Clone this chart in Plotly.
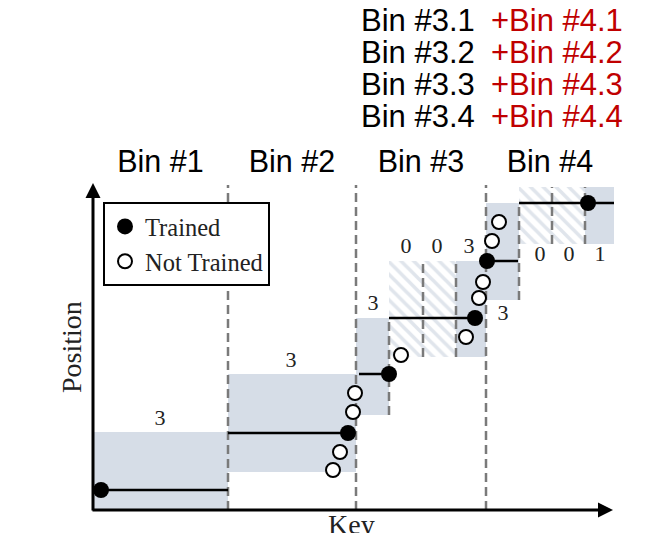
import plotly.graph_objects as go

# ---- coordinate system: key (x) and position (y); axis origin at (0, 0) ----
bin_labels = ["Bin #1", "Bin #2", "Bin #3", "Bin #4"]
bin_edges = [0, 135, 263, 393, 521]
bin_label_pos = 346

# trained (solid shaded) boxes
solid_left = [0, 135, 263, 363, 393, 492]
solid_right = [135, 263, 296, 393, 426, 521]
solid_low = [0, 38, 95, 153, 210, 266]
solid_high = [78, 136, 192, 249, 307, 323]

# untrained (hatched) boxes
hatch_left = [296, 330, 426, 459]
hatch_right = [330, 363, 459, 492]
hatch_low = [153, 153, 266, 266]
hatch_high = [249, 249, 323, 323]

# key counts per (sub)bin
count_text = ["3", "3", "3", "0", "0", "3", "3", "0", "0", "1"]
count_key = [67, 198, 280, 313, 344, 376, 410, 447, 476, 507]
count_pos = [91, 149, 206, 263, 263, 263, 196, 255, 255, 255]

# piecewise model segments
seg_start = [8, 135, 266, 296, 394, 426]
seg_end = [135, 255, 296, 382, 425, 521]
seg_pos = [20, 77, 136, 192, 249, 307]

# points
trained_key = [8, 255, 296, 382, 394, 495]
trained_pos = [20, 77, 136, 192, 249, 307]
untrained_key = [240, 247, 260, 262, 308, 373, 386, 390, 399, 406]
untrained_pos = [40, 58, 98, 117, 155, 173, 212, 228, 269, 288]

# dashed dividers
div_key = [135, 263, 393, 296, 330, 363, 426, 459, 492]
div_low = [0, 0, 0, 95, 153, 153, 210, 266, 266]
div_high = [325, 325, 325, 192, 249, 249, 307, 323, 323]

# sub-bin caption lines
sub_bins_a = ["Bin #3.1", "Bin #3.2", "Bin #3.3", "Bin #3.4"]
sub_bins_b = ["+Bin #4.1", "+Bin #4.2", "+Bin #4.3", "+Bin #4.4"]
sub_row_pos = [490, 458, 426, 394]
sub_a_key = 266
sub_b_key = 396

axis_key_max = 520
axis_pos_max = 327

SERIF = "Liberation Serif"
SANS = "Liberation Sans"
SHADE = "#d6dde7"
HATCH = "#c2ccd9"

fig = go.Figure()

# solid boxes
fig.add_trace(go.Bar(
    x=[(l + r) / 2 for l, r in zip(solid_left, solid_right)],
    y=[h - l for l, h in zip(solid_low, solid_high)],
    base=solid_low,
    width=[r - l for l, r in zip(solid_left, solid_right)],
    marker=dict(color=SHADE, line=dict(width=0)),
    showlegend=False, hoverinfo="skip"))

# hatched boxes
fig.add_trace(go.Bar(
    x=[(l + r) / 2 for l, r in zip(hatch_left, hatch_right)],
    y=[h - l for l, h in zip(hatch_low, hatch_high)],
    base=hatch_low,
    width=[r - l for l, r in zip(hatch_left, hatch_right)],
    marker=dict(color="white", line=dict(width=0),
                pattern=dict(shape="\\", fgcolor=HATCH, bgcolor="white",
                             size=9, solidity=0.4, fillmode="overlay")),
    showlegend=False, hoverinfo="skip"))

# dashed dividers
dx, dy = [], []
for k, lo, hi in zip(div_key, div_low, div_high):
    dx += [k, k, None]
    dy += [lo, hi, None]
fig.add_trace(go.Scatter(x=dx, y=dy, mode="lines",
                         line=dict(color="#7a7a7a", width=2.5, dash="9px,5px"),
                         showlegend=False, hoverinfo="skip"))

# model segments
sx, sy = [], []
for a, b, p in zip(seg_start, seg_end, seg_pos):
    sx += [a, b, None]
    sy += [p, p, None]
fig.add_trace(go.Scatter(x=sx, y=sy, mode="lines",
                         line=dict(color="black", width=2.5),
                         showlegend=False, hoverinfo="skip"))

# points
fig.add_trace(go.Scatter(x=trained_key, y=trained_pos, mode="markers", name="Trained",
                         marker=dict(color="black", size=16, line=dict(width=0))))
fig.add_trace(go.Scatter(x=untrained_key, y=untrained_pos, mode="markers", name="Not Trained",
                         marker=dict(color="white", size=14, line=dict(color="black", width=2))))

# counts
fig.add_trace(go.Scatter(x=count_key, y=count_pos, mode="text", text=count_text,
                         textfont=dict(family=SERIF, size=22, color="#222"),
                         showlegend=False, hoverinfo="skip"))

# bin labels
fig.add_trace(go.Scatter(
    x=[(bin_edges[i] + bin_edges[i + 1]) / 2 for i in range(len(bin_labels))],
    y=[bin_label_pos] * len(bin_labels), mode="text", text=bin_labels,
    textfont=dict(family=SANS, size=30.5, color="black"),
    showlegend=False, hoverinfo="skip"))

annotations = []
# axes with arrows
annotations.append(dict(x=axis_key_max, y=0, ax=-2, ay=0, xref="x", yref="y",
                        axref="x", ayref="y", text="", showarrow=True,
                        arrowhead=2, arrowsize=1, arrowwidth=3, arrowcolor="black"))
annotations.append(dict(x=0, y=axis_pos_max, ax=0, ay=-2, xref="x", yref="y",
                        axref="x", ayref="y", text="", showarrow=True,
                        arrowhead=2, arrowsize=1, arrowwidth=3, arrowcolor="black"))
annotations.append(dict(x=258, y=-14, xref="x", yref="y", text="Key", showarrow=False,
                        font=dict(family=SERIF, size=28, color="#222")))
annotations.append(dict(x=-22, y=163, xref="x", yref="y", text="Position", showarrow=False,
                        textangle=-90, font=dict(family=SERIF, size=28, color="#222")))
for a, b, p in zip(sub_bins_a, sub_bins_b, sub_row_pos):
    annotations.append(dict(x=sub_a_key, y=p, xref="x", yref="y", text=a, showarrow=False,
                            xanchor="left", yanchor="middle",
                            font=dict(family=SANS, size=31, color="black")))
    annotations.append(dict(x=sub_b_key, y=p, xref="x", yref="y", text=b, showarrow=False,
                            xanchor="left", yanchor="middle",
                            font=dict(family=SANS, size=31, color="#c00000")))

fig.update_layout(
    width=666, height=533,
    margin=dict(l=0, r=0, t=0, b=0),
    paper_bgcolor="white", plot_bgcolor="white",
    barmode="overlay", bargap=0,
    xaxis=dict(range=[-93, 573], visible=False, fixedrange=True),
    yaxis=dict(range=[-23, 510], visible=False, fixedrange=True),
    showlegend=True,
    legend=dict(x=103 / 666, y=1 - 202 / 533, xanchor="left", yanchor="top",
                bgcolor="white", bordercolor="black", borderwidth=2,
                font=dict(family=SERIF, size=24.5, color="#222")),
    annotations=annotations,
)

fig.write_html("out.html")
